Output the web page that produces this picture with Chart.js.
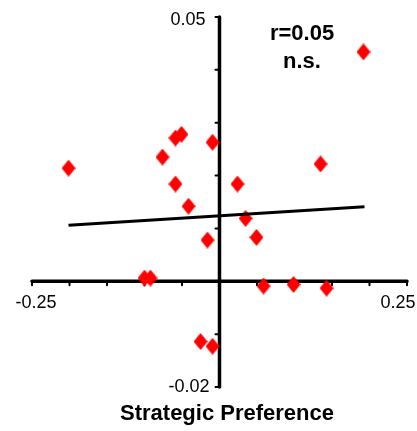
<!DOCTYPE html>
<html>
<head>
<meta charset="utf-8">
<script src="https://cdn.jsdelivr.net/npm/chart.js@4"></script>
<style>
  body { margin: 0; background: #fff; }
  #wrap { width: 417px; height: 431px; position: relative; }
</style>
</head>
<body>
<div id="wrap"><canvas id="scatterChart"></canvas></div>
<script>
// data
const xValues = [0.192, -0.0587, -0.0507, -0.0093, -0.2013, -0.076, 0.1347, -0.0587, 0.024, -0.0413,
                 0.0347, -0.016, 0.0493, -0.1, -0.092, 0.0587, 0.0987, 0.1427, -0.0253, -0.0093];
const yValues = [0.0434, 0.0271, 0.0278, 0.0263, 0.0214, 0.0235, 0.0222, 0.0184, 0.0184, 0.0142,
                 0.0119, 0.0078, 0.0083, 0.0006, 0.0006, -0.0009, -0.0006, -0.0013, -0.0114, -0.0123];
const trendX = [-0.2013, 0.1933];
const trendY = [0.0106, 0.0141];
const xTickLabels = ["-0.25", "0.25"];
const yTickLabels = ["0.05", "-0.02"];
const xTicks = [-0.25, -0.2, -0.15, -0.1, -0.05, 0.05, 0.1, 0.15, 0.2, 0.25];
const yTicks = [0.05, 0.04, 0.03, 0.02, 0.01, -0.01, -0.02];

const points = xValues.map((x, i) => ({ x: x, y: yValues[i] }));
const trend = trendX.map((x, i) => ({ x: x, y: trendY[i] }));

// diamond marker, a bit taller than wide like the original
const diamond = document.createElement("canvas");
diamond.width = 14;
diamond.height = 17;
const dctx = diamond.getContext("2d");
dctx.fillStyle = "#ff0000";
dctx.beginPath();
dctx.moveTo(7, 0);
dctx.lineTo(14, 8.5);
dctx.lineTo(7, 17);
dctx.lineTo(0, 8.5);
dctx.closePath();
dctx.fill();

// axes crossing at zero, drawn under the markers
const crossAxes = {
  id: "crossAxes",
  beforeDatasetsDraw(chart) {
    const ctx = chart.ctx;
    const xs = chart.scales.x, ys = chart.scales.y;
    const x0 = xs.getPixelForValue(0), y0 = ys.getPixelForValue(0);
    ctx.save();
    ctx.strokeStyle = "#000";
    ctx.lineWidth = 3.5;
    ctx.lineCap = "round";
    ctx.beginPath();
    ctx.moveTo(xs.getPixelForValue(-0.25), y0);
    ctx.lineTo(xs.getPixelForValue(0.25), y0);
    ctx.moveTo(x0, ys.getPixelForValue(0.05));
    ctx.lineTo(x0, ys.getPixelForValue(-0.02));
    ctx.stroke();
    // tick marks
    ctx.lineWidth = 2;
    ctx.beginPath();
    xTicks.forEach(v => {
      const px = xs.getPixelForValue(v);
      ctx.moveTo(px, y0);
      ctx.lineTo(px, y0 + 4);
    });
    yTicks.forEach(v => {
      const py = ys.getPixelForValue(v);
      ctx.moveTo(x0, py);
      ctx.lineTo(x0 - 4, py);
    });
    ctx.stroke();

    ctx.fillStyle = "#000";
    ctx.font = "18px 'Liberation Sans', Arial, sans-serif";
    ctx.textBaseline = "middle";
    ctx.textAlign = "center";
    ctx.fillText(xTickLabels[0], xs.getPixelForValue(-0.25) + 4, y0 + 22);
    ctx.fillText(xTickLabels[1], xs.getPixelForValue(0.25) - 9, y0 + 22);
    ctx.textAlign = "right";
    ctx.fillText(yTickLabels[0], x0 - 14, ys.getPixelForValue(0.05) + 3);
    ctx.fillText(yTickLabels[1], x0 - 10, ys.getPixelForValue(-0.02));

    ctx.textAlign = "center";
    ctx.font = "bold 22px 'Liberation Sans', Arial, sans-serif";
    ctx.fillText("r=0.05", 302, 34);
    ctx.fillText("n.s.", 302, 62);
    ctx.font = "bold 22px 'Liberation Sans', Arial, sans-serif";
    ctx.fillText("Strategic Preference", 227, 414);
    ctx.restore();
  }
};

const scatterCTX = document.getElementById("scatterChart");

const scatterChart = new Chart(scatterCTX, {
  type: "scatter",
  data: {
    datasets: [
      {
        type: "line",
        data: trend,
        borderColor: "#000",
        borderWidth: 3,
        pointRadius: 0,
        fill: false,
        order: 1,
      },
      {
        data: points,
        pointStyle: diamond,
        pointRadius: 7,
        backgroundColor: "#ff0000",
        borderColor: "#ff0000",
        order: 2,
      },
    ],
  },
  options: {
    responsive: true,
    maintainAspectRatio: false,
    animation: false,
    layout: { padding: { left: 32, right: 10, top: 17, bottom: 44 } },
    scales: {
      x: { type: "linear", min: -0.25, max: 0.25, display: false },
      y: { type: "linear", min: -0.02, max: 0.05, display: false },
    },
    plugins: {
      legend: { display: false },
      tooltip: { enabled: false },
    },
  },
  plugins: [crossAxes],
});
</script>
</body>
</html>
